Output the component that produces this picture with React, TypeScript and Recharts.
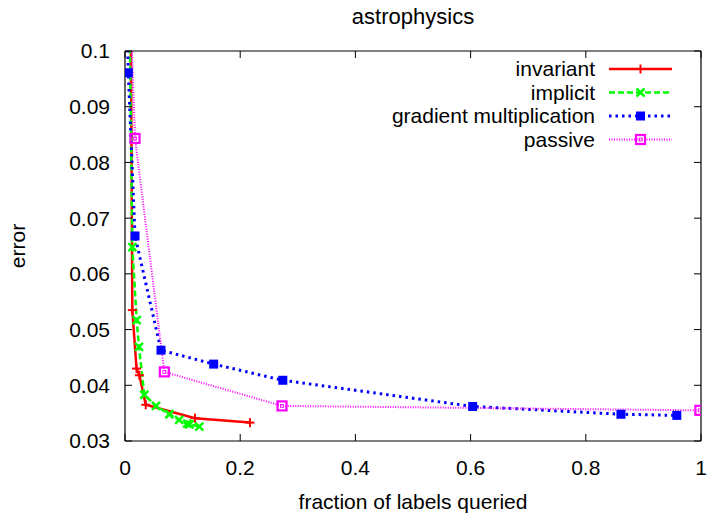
import React from 'react';
import { LineChart, Line, XAxis, YAxis, Legend } from 'recharts';

const FONT = '"Liberation Sans", Arial, Helvetica, sans-serif';
const FS = 21;

// data (x = fraction of labels queried, y = error)
const invariantX = [0.0094, 0.0127, 0.020, 0.025, 0.036, 0.1215, 0.217];
const invariantY = [0.12, 0.0535, 0.0430, 0.0418, 0.0365, 0.0341, 0.0333];

const implicitX = [0.0064, 0.0127, 0.0203, 0.0243, 0.0335, 0.0538, 0.077, 0.094, 0.108, 0.112, 0.129];
const implicitY = [0.12, 0.0648, 0.0517, 0.0469, 0.0383, 0.0363, 0.0348, 0.0338, 0.0331, 0.0330, 0.0326];

const gradientX = [0.0005, 0.0057, 0.0174, 0.0625, 0.154, 0.274, 0.6036, 0.861, 0.958];
const gradientY = [0.12, 0.0961, 0.0668, 0.0463, 0.0438, 0.0409, 0.0362, 0.0348, 0.0346];

const passiveX = [0.005, 0.0174, 0.0683, 0.2726, 0.998];
const passiveY = [0.12, 0.0843, 0.0424, 0.0363, 0.0355];

const xTicks = [0, 0.2, 0.4, 0.6, 0.8, 1];
const xTickLabels = ['0', '0.2', '0.4', '0.6', '0.8', '1'];
const yTicks = [0.03, 0.04, 0.05, 0.06, 0.07, 0.08, 0.09, 0.1];
const yTickLabels = ['0.03', '0.04', '0.05', '0.06', '0.07', '0.08', '0.09', '0.1'];

const seriesNames = ['invariant', 'implicit', 'gradient multiplication', 'passive'];

const zip = (xs: number[], ys: number[]) => xs.map((x, i) => ({ x, y: ys[i] }));

const invariant = zip(invariantX, invariantY);
const implicit = zip(implicitX, implicitY);
const gradient = zip(gradientX, gradientY);
const passive = zip(passiveX, passiveY);

type Kind = 'plus' | 'cross' | 'fsquare' | 'osquare';

const Marker = ({ kind, cx, cy, color }: { kind: Kind; cx: number; cy: number; color: string }) => {
  if (kind === 'plus')
    return (
      <g>
        <line x1={cx - 4.5} y1={cy} x2={cx + 4.5} y2={cy} stroke={color} strokeWidth={2} />
        <line x1={cx} y1={cy - 4.5} x2={cx} y2={cy + 4.5} stroke={color} strokeWidth={2} />
      </g>
    );
  if (kind === 'cross')
    return (
      <g>
        <line x1={cx - 4} y1={cy - 4} x2={cx + 4} y2={cy + 4} stroke={color} strokeWidth={2.5} />
        <line x1={cx - 4} y1={cy + 4} x2={cx + 4} y2={cy - 4} stroke={color} strokeWidth={2.5} />
      </g>
    );
  if (kind === 'fsquare')
    return <rect x={cx - 4.5} y={cy - 4.5} width={9} height={9} fill={color} />;
  return (
    <g>
      <rect x={cx - 4.5} y={cy - 4.5} width={9} height={9} fill="none" stroke={color} strokeWidth={2.2} />
      <rect x={cx - 1.5} y={cy - 1.5} width={3} height={3} fill="none" stroke={color} strokeWidth={0.8} />
    </g>
  );
};

const makeDot = (kind: Kind, color: string) => (props: any) => {
  const { cx, cy, payload, index } = props;
  if (cx == null || cy == null || payload.y > 0.1) return <g key={`d-${kind}-${index}`} />;
  return (
    <g key={`d-${kind}-${index}`}>
      <Marker kind={kind} cx={cx} cy={cy} color={color} />
    </g>
  );
};

const styles = [
  { name: seriesNames[0], color: '#ff0000', dash: undefined as string | undefined, width: 2.5, kind: 'plus' as Kind },
  { name: seriesNames[1], color: '#00ff00', dash: '6 3', width: 2.5, kind: 'cross' as Kind },
  { name: seriesNames[2], color: '#0000ff', dash: '2.5 4', width: 3, kind: 'fsquare' as Kind },
  { name: seriesNames[3], color: '#ff00ff', dash: '1 1.5', width: 2, kind: 'osquare' as Kind },
];

const LegendBox = () => {
  const rowY = [12, 35.5, 59, 82.5];
  return (
    <svg width={300} height={96} style={{ display: 'block', overflow: 'visible' }}>
      {styles.map((s, i) => (
        <g key={s.name}>
          <text
            x={215}
            y={rowY[i]}
            dy="0.35em"
            textAnchor="end"
            fontFamily={FONT}
            fontSize={FS}
            fill="#000"
          >
            {s.name}
          </text>
          <line
            x1={229}
            y1={rowY[i]}
            x2={292}
            y2={rowY[i]}
            stroke={s.color}
            strokeWidth={s.width}
            strokeDasharray={s.dash}
          />
          <Marker kind={s.kind} cx={260.5} cy={rowY[i]} color={s.color} />
        </g>
      ))}
    </svg>
  );
};

export default function App() {
  const tickStyle = { fill: '#000', fontSize: FS, fontFamily: FONT };
  return (
    <div style={{ position: 'absolute', left: 0, top: 0, width: 707, height: 515, background: '#fff' }}>
      <LineChart width={707} height={515} margin={{ top: 50, right: 5, left: 0, bottom: 0 }}>
        <XAxis
          xAxisId="b"
          dataKey="x"
          type="number"
          domain={[0, 1]}
          allowDataOverflow
          ticks={xTicks}
          interval={0}
          tickFormatter={(v: number) => xTickLabels[xTicks.indexOf(v)] ?? String(v)}
          tick={tickStyle}
          tickSize={-7}
          tickMargin={26}
          height={74}
          stroke="#000"
          axisLine={{ stroke: '#000', strokeWidth: 1.2 }}
          tickLine={{ stroke: '#000', strokeWidth: 1 }}
          label={{ value: 'fraction of labels queried', position: 'insideBottom', offset: 6, fill: '#000', fontSize: FS, fontFamily: FONT }}
        />
        <XAxis
          xAxisId="t"
          dataKey="x"
          orientation="top"
          type="number"
          domain={[0, 1]}
          allowDataOverflow
          ticks={xTicks}
          interval={0}
          height={1}
          tickSize={-7}
          tickMargin={0}
          tickFormatter={() => ''}
          stroke="#000"
          axisLine={{ stroke: '#000', strokeWidth: 1.2 }}
          tickLine={{ stroke: '#000', strokeWidth: 1 }}
        />
        <YAxis
          yAxisId="l"
          type="number"
          domain={[0.03, 0.1]}
          allowDataOverflow
          ticks={yTicks}
          interval={0}
          tickFormatter={(v: number) => yTickLabels[yTicks.findIndex((t) => Math.abs(t - v) < 1e-9)] ?? String(v)}
          tick={tickStyle}
          tickSize={-7}
          tickMargin={22}
          width={125}
          stroke="#000"
          axisLine={{ stroke: '#000', strokeWidth: 1.2 }}
          tickLine={{ stroke: '#000', strokeWidth: 1 }}
          label={{ value: 'error', angle: -90, position: 'insideLeft', offset: 18, fill: '#000', fontSize: FS, fontFamily: FONT, style: { textAnchor: 'middle' } }}
        />
        <YAxis
          yAxisId="r"
          orientation="right"
          type="number"
          domain={[0.03, 0.1]}
          allowDataOverflow
          ticks={yTicks}
          interval={0}
          width={1}
          tickSize={-7}
          tickMargin={0}
          tickFormatter={() => ''}
          stroke="#000"
          axisLine={{ stroke: '#000', strokeWidth: 1.2 }}
          tickLine={{ stroke: '#000', strokeWidth: 1 }}
        />
        <Legend
          layout="horizontal"
          verticalAlign="middle"
          align="center"
          content={() => <LegendBox />}
          wrapperStyle={{ top: 57, left: 380, width: 300, height: 96 }}
        />
        {/* invisible series binding the frame axes */}
        <Line
          data={passive}
          dataKey="y"
          xAxisId="t"
          yAxisId="r"
          stroke="none"
          dot={false}
          activeDot={false}
          legendType="none"
          isAnimationActive={false}
        />
        {[invariant, implicit, gradient, passive].map((d, i) => (
          <Line
            key={styles[i].name}
            name={styles[i].name}
            data={d}
            dataKey="y"
            xAxisId="b"
            yAxisId="l"
            type="linear"
            stroke={styles[i].color}
            strokeWidth={styles[i].width}
            strokeDasharray={styles[i].dash}
            dot={makeDot(styles[i].kind, styles[i].color)}
            activeDot={false}
            isAnimationActive={false}
          />
        ))}
      </LineChart>
      <svg
        width={707}
        height={40}
        style={{ position: 'absolute', left: 0, top: 0, pointerEvents: 'none' }}
      >
        <text x={413} y={24} textAnchor="middle" fontFamily={FONT} fontSize={22} fill="#000">
          astrophysics
        </text>
      </svg>
    </div>
  );
}
